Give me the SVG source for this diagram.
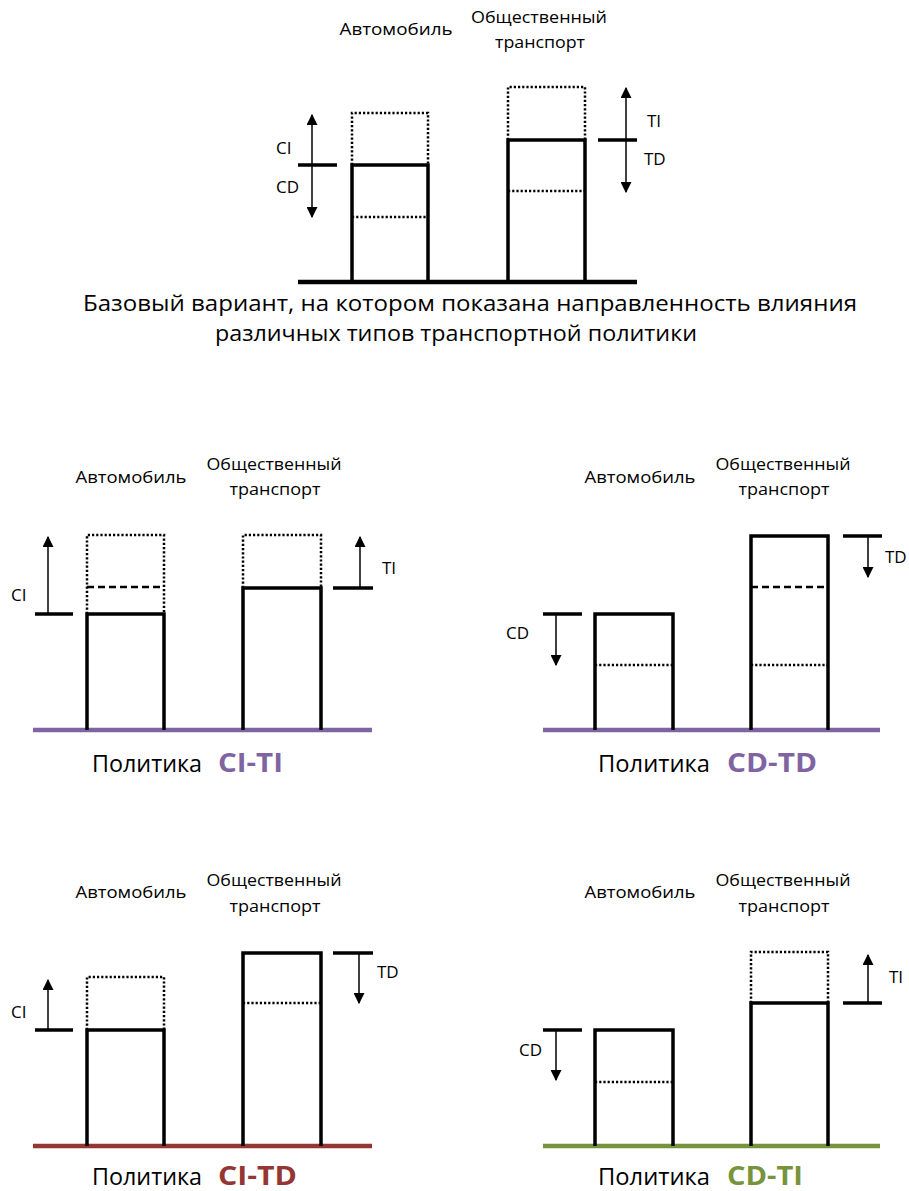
<svg xmlns="http://www.w3.org/2000/svg" width="909" height="1191" viewBox="0 0 909 1191">
<style>
text{font-family:"Open Sans","Noto Sans","Liberation Sans",sans-serif;fill:#000}
.lbl{font-size:17px}
.sm{font-size:17px}
.cap{font-size:21px}
.pol{font-size:24px}
.pb{font-size:26px;font-weight:bold}
.bar{fill:none;stroke:#000;stroke-width:3.5;stroke-linejoin:miter}
.dot{fill:none;stroke:#000;stroke-width:2.5;stroke-dasharray:2.2 2}
.dash{fill:none;stroke:#000;stroke-width:2.5;stroke-dasharray:7 4}
.tick{stroke:#000;stroke-width:3.5}
.arr{stroke:#000;stroke-width:1.5}
.base{stroke-width:4.5}
</style>
<defs>
<marker id="ahb" viewBox="0 0 10 10" refX="9" refY="5" markerWidth="11" markerHeight="11" markerUnits="userSpaceOnUse" orient="auto">
<path d="M0,0 L10,5 L0,10 Z" fill="#000"/>
</marker>
</defs>

<!-- Top panel: base variant -->
<g id="base-panel">
<text class="lbl" x="396" y="35" text-anchor="middle" textLength="113" lengthAdjust="spacingAndGlyphs">Автомобиль</text>
<text class="lbl" x="539" y="23" text-anchor="middle" textLength="136" lengthAdjust="spacingAndGlyphs">Общественный</text>
<text class="lbl" x="540" y="48" text-anchor="middle" textLength="90" lengthAdjust="spacingAndGlyphs">транспорт</text>
<line class="base" x1="298" y1="282" x2="637" y2="282" stroke="#000"/>
<path class="dot" d="M352,165 V113 H428 V165"/>
<line class="dot" x1="352" y1="217" x2="428" y2="217"/>
<path class="bar" d="M352,282 V165 H428 V282"/>
<path class="dot" d="M508,140 V87 H585 V140"/>
<line class="dot" x1="508" y1="191" x2="585" y2="191"/>
<path class="bar" d="M508,282 V140 H585 V282"/>
<text class="sm" x="276" y="154">CI</text>
<text class="sm" x="276" y="193">CD</text>
<text class="sm" x="647" y="127">TI</text>
<text class="sm" x="644" y="165">TD</text>
</g>

<g id="caption">
<text class="cap" x="470" y="311" text-anchor="middle" textLength="774" lengthAdjust="spacingAndGlyphs">Базовый вариант, на котором показана направленность влияния</text>
<text class="cap" x="456" y="341" text-anchor="middle" textLength="482" lengthAdjust="spacingAndGlyphs">различных типов транспортной политики</text>
</g>

<!-- CI-TI panel -->
<g id="panel-ci-ti">
<text class="lbl" x="131" y="483" text-anchor="middle" textLength="111" lengthAdjust="spacingAndGlyphs">Автомобиль</text>
<text class="lbl" x="274" y="470" text-anchor="middle" textLength="135" lengthAdjust="spacingAndGlyphs">Общественный</text>
<text class="lbl" x="275" y="495" text-anchor="middle" textLength="91" lengthAdjust="spacingAndGlyphs">транспорт</text>
<line class="base" x1="33" y1="730" x2="372" y2="730" stroke="#8064A2"/>
<path class="dot" d="M87,614 V535 H164 V614"/>
<line class="dash" x1="87" y1="587" x2="164" y2="587"/>
<path class="bar" d="M87,730 V614 H164 V730"/>
<path class="dot" d="M243,588 V535 H321 V588"/>
<path class="bar" d="M243,730 V588 H321 V730"/>
<text class="sm" x="11" y="601">CI</text>
<text class="sm" x="382" y="574">TI</text>
<text class="pol" x="92" y="772" textLength="110" lengthAdjust="spacingAndGlyphs">Политика</text>
<text class="pb" x="218" y="772" style="fill:#8064A2" textLength="65" lengthAdjust="spacingAndGlyphs">CI-TI</text>
</g>

<!-- CD-TD panel -->
<g id="panel-cd-td">
<text class="lbl" x="640" y="483" text-anchor="middle" textLength="111" lengthAdjust="spacingAndGlyphs">Автомобиль</text>
<text class="lbl" x="783" y="470" text-anchor="middle" textLength="135" lengthAdjust="spacingAndGlyphs">Общественный</text>
<text class="lbl" x="784" y="495" text-anchor="middle" textLength="91" lengthAdjust="spacingAndGlyphs">транспорт</text>
<line class="base" x1="543" y1="730" x2="880" y2="730" stroke="#8064A2"/>
<line class="dot" x1="595" y1="665" x2="673" y2="665"/>
<path class="bar" d="M595,730 V614 H673 V730"/>
<line class="dash" x1="751" y1="587" x2="828" y2="587"/>
<line class="dot" x1="751" y1="665" x2="828" y2="665"/>
<path class="bar" d="M751,730 V536 H828 V730"/>
<text class="sm" x="506" y="639">CD</text>
<text class="sm" x="885" y="563">TD</text>
<text class="pol" x="598" y="772" textLength="112" lengthAdjust="spacingAndGlyphs">Политика</text>
<text class="pb" x="727" y="772" style="fill:#8064A2" textLength="90" lengthAdjust="spacingAndGlyphs">CD-TD</text>
</g>

<!-- CI-TD panel -->
<g id="panel-ci-td">
<text class="lbl" x="131" y="898" text-anchor="middle" textLength="111" lengthAdjust="spacingAndGlyphs">Автомобиль</text>
<text class="lbl" x="274" y="886" text-anchor="middle" textLength="135" lengthAdjust="spacingAndGlyphs">Общественный</text>
<text class="lbl" x="275" y="912" text-anchor="middle" textLength="91" lengthAdjust="spacingAndGlyphs">транспорт</text>
<line class="base" x1="33" y1="1146" x2="372" y2="1146" stroke="#943634"/>
<path class="dot" d="M87,1030 V977 H164 V1030"/>
<path class="bar" d="M87,1146 V1030 H164 V1146"/>
<line class="dot" x1="243" y1="1003" x2="321" y2="1003"/>
<path class="bar" d="M243,1146 V953 H321 V1146"/>
<text class="sm" x="11" y="1018">CI</text>
<text class="sm" x="377" y="978">TD</text>
<text class="pol" x="92" y="1185" textLength="110" lengthAdjust="spacingAndGlyphs">Политика</text>
<text class="pb" x="218" y="1185" style="fill:#943634" textLength="79" lengthAdjust="spacingAndGlyphs">CI-TD</text>
</g>

<!-- CD-TI panel -->
<g id="panel-cd-ti">
<text class="lbl" x="640" y="898" text-anchor="middle" textLength="111" lengthAdjust="spacingAndGlyphs">Автомобиль</text>
<text class="lbl" x="783" y="886" text-anchor="middle" textLength="135" lengthAdjust="spacingAndGlyphs">Общественный</text>
<text class="lbl" x="784" y="912" text-anchor="middle" textLength="91" lengthAdjust="spacingAndGlyphs">транспорт</text>
<line class="base" x1="543" y1="1146" x2="880" y2="1146" stroke="#77933C"/>
<line class="dot" x1="595" y1="1082" x2="673" y2="1082"/>
<path class="bar" d="M595,1146 V1030 H673 V1146"/>
<path class="dot" d="M751,1003 V952 H828 V1003"/>
<path class="bar" d="M751,1146 V1003 H828 V1146"/>
<text class="sm" x="519" y="1056">CD</text>
<text class="sm" x="889" y="983">TI</text>
<text class="pol" x="598" y="1185" textLength="112" lengthAdjust="spacingAndGlyphs">Политика</text>
<text class="pb" x="727" y="1185" style="fill:#77933C" textLength="76" lengthAdjust="spacingAndGlyphs">CD-TI</text>
</g>

<!-- Connectors: level ticks and direction arrows -->
<g id="connectors">
<line class="tick" x1="298" y1="165" x2="337" y2="165"/>
<line class="arr" x1="312" y1="165" x2="312" y2="115" marker-end="url(#ahb)"/>
<line class="arr" x1="312" y1="165" x2="312" y2="217" marker-end="url(#ahb)"/>
<line class="tick" x1="598" y1="140" x2="637" y2="140"/>
<line class="arr" x1="626" y1="140" x2="626" y2="88" marker-end="url(#ahb)"/>
<line class="arr" x1="626" y1="140" x2="626" y2="192" marker-end="url(#ahb)"/>

<line class="tick" x1="35" y1="614" x2="73" y2="614"/>
<line class="arr" x1="48" y1="614" x2="48" y2="537" marker-end="url(#ahb)"/>
<line class="tick" x1="333" y1="588" x2="373" y2="588"/>
<line class="arr" x1="360" y1="588" x2="360" y2="537" marker-end="url(#ahb)"/>

<line class="tick" x1="543" y1="614" x2="582" y2="614"/>
<line class="arr" x1="556" y1="614" x2="556" y2="665" marker-end="url(#ahb)"/>
<line class="tick" x1="843" y1="536" x2="882" y2="536"/>
<line class="arr" x1="868" y1="536" x2="868" y2="577" marker-end="url(#ahb)"/>

<line class="tick" x1="35" y1="1030" x2="73" y2="1030"/>
<line class="arr" x1="48" y1="1030" x2="48" y2="980" marker-end="url(#ahb)"/>
<line class="tick" x1="333" y1="953" x2="373" y2="953"/>
<line class="arr" x1="359" y1="953" x2="359" y2="1003" marker-end="url(#ahb)"/>

<line class="tick" x1="543" y1="1030" x2="582" y2="1030"/>
<line class="arr" x1="556" y1="1030" x2="556" y2="1080" marker-end="url(#ahb)"/>
<line class="tick" x1="843" y1="1003" x2="882" y2="1003"/>
<line class="arr" x1="868" y1="1003" x2="868" y2="955" marker-end="url(#ahb)"/>
</g>
</svg>
